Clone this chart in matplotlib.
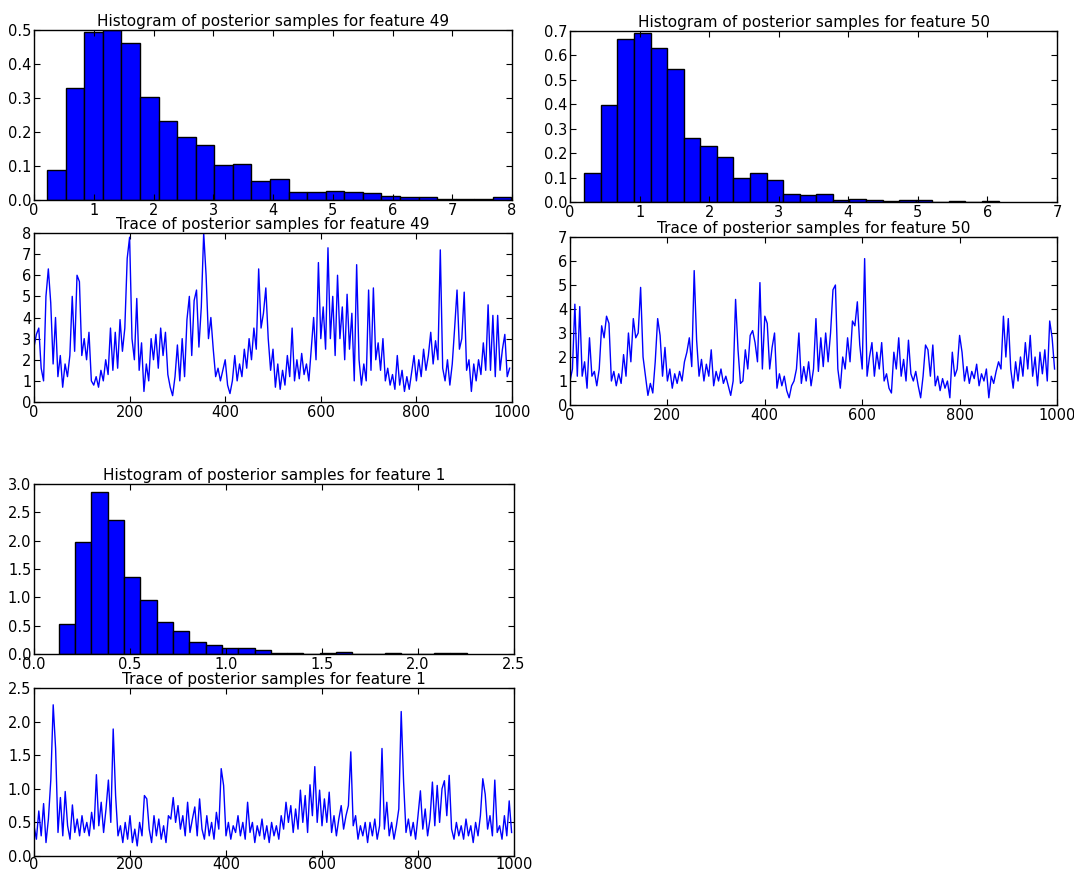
import numpy as np
import matplotlib
matplotlib.use("Agg")
import matplotlib.pyplot as plt

# histogram densities (25 bins each) and bin ranges
hist49_range = (0.22, 7.99)
hist49 = [0.087, 0.33, 0.494, 0.499, 0.463, 0.304, 0.233, 0.185, 0.162, 0.104,
          0.107, 0.055, 0.062, 0.024, 0.024, 0.027, 0.024, 0.021, 0.011, 0.008,
          0.008, 0.004, 0.004, 0.004, 0.008]

hist50_range = (0.206, 6.16)
hist50 = [0.117, 0.399, 0.668, 0.692, 0.629, 0.545, 0.264, 0.230, 0.184, 0.099,
          0.117, 0.091, 0.033, 0.027, 0.033, 0.007, 0.011, 0.007, 0.003, 0.007,
          0.007, 0.0, 0.003, 0.0, 0.003]

hist1_range = (0.129, 2.253)
hist1 = [0.53, 1.976, 2.853, 2.365, 1.365, 0.947, 0.559, 0.412, 0.218, 0.159,
         0.10, 0.10, 0.065, 0.012, 0.012, 0.0, 0.012, 0.03, 0.0, 0.0,
         0.012, 0.0, 0.0, 0.012, 0.012]

# MCMC traces, one value every 5 iterations
step = 5
trace49 = [
    2.6, 3.2, 3.5, 1.6, 1.0, 5.0, 6.3, 4.7, 1.8, 4.0, 1.2, 2.2, 0.7, 1.8, 1.2, 2.2, 5.0, 2.4, 6.0, 5.7,
    2.2, 3.0, 2.0, 3.3, 1.0, 0.8, 1.2, 0.7, 1.5, 1.0, 2.0, 1.3, 3.5, 1.5, 3.3, 1.6, 3.9, 2.4, 3.5, 6.8,
    7.8, 3.0, 2.0, 4.9, 1.5, 2.8, 0.5, 1.8, 1.0, 3.0, 2.0, 3.2, 1.6, 3.5, 2.2, 3.3, 1.3, 0.7, 0.3, 1.2,
    2.7, 1.0, 3.0, 1.2, 3.9, 5.0, 2.2, 4.8, 5.3, 2.6, 4.5, 8.0, 6.0, 3.0, 4.0, 2.5, 1.2, 1.6, 1.0, 1.5,
    2.0, 0.8, 0.4, 1.0, 2.2, 1.0, 1.8, 1.2, 2.5, 1.6, 3.0, 2.0, 3.5, 2.5, 6.3, 3.5, 4.2, 5.4, 3.0, 1.5,
    2.5, 0.7, 1.8, 0.6, 1.5, 0.8, 2.2, 1.2, 3.5, 1.0, 2.0, 1.1, 2.3, 1.3, 1.8, 1.0, 2.5, 4.0, 2.0, 6.6,
    3.0, 4.5, 2.5, 7.3, 3.0, 5.0, 2.2, 6.0, 3.0, 4.5, 2.0, 5.1, 2.5, 4.2, 1.0, 6.5, 2.0, 0.8, 1.8, 1.0,
    5.3, 1.5, 5.4, 2.0, 2.8, 1.5, 3.0, 1.0, 1.6, 0.8, 1.3, 0.6, 2.2, 0.8, 1.5, 0.5, 1.2, 0.6, 1.4, 2.2,
    1.0, 2.0, 1.2, 2.5, 1.5, 2.2, 3.3, 1.8, 2.9, 2.0, 7.2, 1.6, 1.0, 2.0, 0.8, 1.8, 3.5, 5.3, 2.5, 3.0,
    5.2, 1.5, 2.0, 0.5, 1.8, 1.0, 2.0, 1.3, 2.8, 1.5, 4.6, 1.5, 4.1, 1.2, 4.1, 1.5, 2.5, 3.2, 1.2, 1.6,
]
trace50 = [
    1.0, 1.5, 4.2, 1.2, 4.1, 1.2, 1.8, 0.7, 2.8, 1.2, 1.4, 0.8, 1.5, 3.3, 2.8, 3.7, 3.4, 1.0, 1.4, 0.8,
    1.3, 0.9, 2.1, 1.2, 3.0, 1.8, 3.6, 2.8, 3.0, 4.9, 2.0, 1.2, 0.4, 0.9, 0.5, 1.8, 3.6, 2.9, 1.2, 2.4,
    1.0, 1.5, 0.7, 1.3, 0.9, 1.4, 1.0, 1.8, 2.2, 2.8, 1.6, 5.6, 2.7, 1.2, 1.9, 1.0, 1.7, 1.2, 2.3, 0.8,
    1.4, 1.0, 1.5, 0.9, 1.2, 0.8, 0.4, 1.0, 4.4, 2.3, 0.9, 1.0, 2.3, 1.5, 2.9, 3.1, 2.6, 1.8, 5.1, 1.5,
    3.7, 3.4, 1.5, 2.4, 3.0, 0.7, 1.3, 0.8, 1.2, 0.6, 0.3, 0.8, 1.0, 1.5, 3.0, 0.9, 1.6, 1.0, 1.8, 0.8,
    1.5, 3.6, 1.4, 2.8, 1.6, 3.0, 1.8, 3.0, 4.8, 5.0, 1.5, 0.7, 2.0, 1.5, 2.8, 1.8, 3.5, 3.3, 4.3, 2.5,
    1.5, 6.1, 1.2, 2.0, 2.6, 1.2, 2.2, 1.5, 2.6, 1.0, 1.3, 0.7, 0.5, 2.2, 1.5, 2.8, 1.2, 1.9, 1.0, 2.7,
    1.3, 1.0, 1.4, 0.8, 0.3, 1.2, 2.5, 2.3, 1.2, 2.5, 0.8, 1.2, 0.6, 1.1, 0.7, 1.0, 0.3, 2.2, 1.2, 1.5,
    2.9, 2.2, 1.0, 1.6, 0.9, 1.4, 1.1, 1.7, 0.8, 1.3, 1.0, 1.5, 0.3, 1.2, 0.9, 1.4, 1.8, 1.5, 3.7, 2.0,
    3.6, 1.5, 0.7, 1.8, 1.0, 2.0, 1.2, 2.6, 1.5, 2.9, 1.2, 2.0, 0.8, 2.2, 1.3, 2.3, 1.0, 3.5, 2.8, 1.5,
]
trace1 = [
    0.45, 0.25, 0.67, 0.3, 0.78, 0.2, 0.55, 1.13, 2.25, 1.6, 0.35, 0.87, 0.3, 0.96, 0.45, 0.25, 0.76, 0.35, 0.55, 0.3,
    0.6, 0.35, 0.5, 0.3, 0.65, 0.4, 1.21, 0.45, 0.8, 0.35, 0.7, 1.13, 0.5, 1.89, 0.9, 0.3, 0.45, 0.2, 0.5, 0.25,
    0.6, 0.2, 0.4, 0.15, 0.5, 0.3, 0.9, 0.85, 0.4, 0.2, 0.6, 0.3, 0.55, 0.25, 0.45, 0.2, 0.6, 0.55, 0.87, 0.5,
    0.75, 0.4, 0.6, 0.3, 0.8, 0.35, 0.55, 0.73, 0.3, 0.85, 0.4, 0.25, 0.6, 0.3, 0.5, 0.25, 0.65, 0.4, 1.3, 1.05,
    0.3, 0.5, 0.25, 0.45, 0.35, 0.6, 0.3, 0.5, 0.25, 0.8, 0.35, 0.5, 0.2, 0.45, 0.3, 0.55, 0.25, 0.45, 0.2, 0.5,
    0.3, 0.45, 0.25, 0.6, 0.4, 0.8, 0.5, 0.75, 0.35, 0.7, 0.4, 0.98, 0.5, 0.9, 0.35, 1.06, 0.6, 1.33, 0.5, 0.98,
    0.45, 0.85, 0.5, 0.95, 0.35, 0.6, 0.3, 0.55, 0.75, 0.4, 0.6, 0.75, 1.55, 0.45, 0.6, 0.25, 0.45, 0.3, 0.5, 0.2,
    0.5, 0.3, 0.55, 0.25, 0.45, 1.6, 0.4, 0.8, 0.3, 0.5, 0.25, 0.45, 0.7, 2.15, 1.1, 0.35, 0.55, 0.3, 0.5, 0.25,
    0.6, 0.97, 0.4, 0.7, 0.3, 0.55, 1.1, 0.45, 1.05, 0.5, 1.0, 1.12, 0.6, 1.2, 0.4, 0.25, 0.5, 0.3, 0.45, 0.25,
    0.55, 0.3, 0.45, 0.2, 0.5, 0.3, 0.6, 1.15, 0.92, 0.4, 0.6, 0.3, 1.13, 0.35, 0.45, 0.25, 0.6, 0.3, 0.82, 0.35,
]

W, H = 1074, 873
fig = plt.figure(figsize=(W / 100, H / 100), dpi=100)


def axes_px(left, top, right, bottom):
    return fig.add_axes([left / W, 1 - bottom / H, (right - left) / W, (bottom - top) / H])


def style(ax):
    ax.tick_params(direction='in', top=True, right=True, length=4, labelsize=10.5, pad=2)
    for s in ax.spines.values():
        s.set_linewidth(1.0)


def draw_hist(ax, rng, dens, feature, xmax, ymax, yticks):
    edges = np.linspace(rng[0], rng[1], len(dens) + 1)
    ax.bar(edges[:-1], dens, width=np.diff(edges), align='edge',
           color='blue', edgecolor='black', linewidth=1.0)
    ax.set_xlim(0, xmax)
    ax.set_ylim(0, ymax)
    ax.set_yticks(yticks)
    ax.set_title('Histogram of posterior samples for feature %d' % feature, fontsize=11, pad=3)
    style(ax)


def draw_trace(ax, vals, feature, ymax, yticks):
    x = np.arange(len(vals)) * step
    ax.plot(x, vals, color='blue', linewidth=1.0)
    ax.set_xlim(0, 1000)
    ax.set_ylim(0, ymax)
    ax.set_xticks(range(0, 1001, 200))
    ax.set_yticks(yticks)
    ax.set_title('Trace of posterior samples for feature %d' % feature, fontsize=11, pad=3)
    style(ax)


ax = axes_px(34, 30, 512, 200)
draw_hist(ax, hist49_range, hist49, 49, 8, 0.5, np.arange(0, 0.51, 0.1))
ax.set_xticks(range(0, 9))

ax = axes_px(34, 233, 512, 402)
draw_trace(ax, trace49, 49, 8, range(0, 9))

ax = axes_px(570, 31, 1057, 202)
draw_hist(ax, hist50_range, hist50, 50, 7, 0.7, np.arange(0, 0.71, 0.1))
ax.set_xticks(range(0, 8))

ax = axes_px(570, 237, 1057, 405)
draw_trace(ax, trace50, 50, 7, range(0, 8))

ax = axes_px(34, 484, 514, 654)
draw_hist(ax, hist1_range, hist1, 1, 2.5, 3.0, np.arange(0, 3.01, 0.5))
ax.set_xticks(np.arange(0, 2.51, 0.5))

ax = axes_px(34, 688, 514, 856)
draw_trace(ax, trace1, 1, 2.5, np.arange(0, 2.51, 0.5))
ax.tick_params(axis='x', pad=1)

for a in fig.axes:
    a.yaxis.set_major_formatter(matplotlib.ticker.FormatStrFormatter(
        '%.1f' if a.get_ylim()[1] < 4 else '%d'))
    if a.get_xlim()[1] == 2.5:
        a.xaxis.set_major_formatter(matplotlib.ticker.FormatStrFormatter('%.1f'))

fig.savefig('out.png', dpi=100)
